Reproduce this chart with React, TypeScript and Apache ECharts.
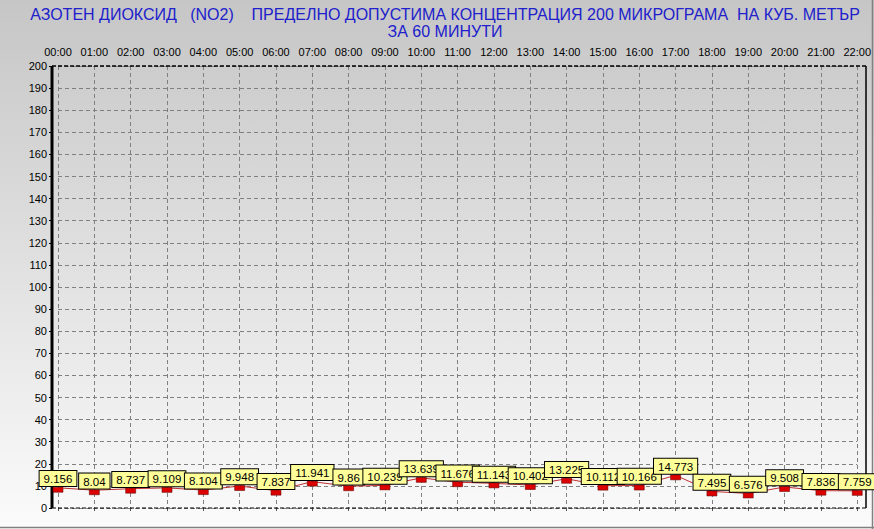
import React, { useEffect, useRef } from "react";
import * as echarts from "echarts";

const hours = ["00:00","01:00","02:00","03:00","04:00","05:00","06:00","07:00","08:00","09:00","10:00","11:00","12:00","13:00","14:00","15:00","16:00","17:00","18:00","19:00","20:00","21:00","22:00"];
const no2Values = [9.156, 8.04, 8.737, 9.109, 8.104, 9.948, 7.837, 11.941, 9.86, 10.239, 13.639, 11.676, 11.143, 10.402, 13.225, 10.112, 10.166, 14.773, 7.495, 6.576, 9.508, 7.836, 7.759];
const titleText = "АЗОТЕН ДИОКСИД   (NO2)    ПРЕДЕЛНО ДОПУСТИМА КОНЦЕНТРАЦИЯ 200 МИКРОГРАМА  НА КУБ. МЕТЪР\nЗА 60 МИНУТИ";

const FONT = "Arial, 'Liberation Sans', sans-serif";

export default function App() {
  const ref = useRef<HTMLDivElement>(null);
  useEffect(() => {
    if (!ref.current) return;
    const chart = echarts.init(ref.current, null, { renderer: "svg" });
    const L = 52, R = 866, T = 66, B = 508;
    chart.setOption({
      animation: false,
      backgroundColor: new echarts.graphic.LinearGradient(0, 0, 0, 1, [
        { offset: 0, color: "#c6c6c6" },
        { offset: 1, color: "#fbfbfb" },
      ]),
      grid: { left: 58, right: 874 - 860.5, top: T, bottom: 529 - B },
      graphic: [
        {
          type: "text", x: 445, y: 6, z: 10,
          style: { text: titleText, fill: "#2020cc", font: `16px ${FONT}`, align: "center", lineHeight: 17 },
        },
        { type: "line", z: 1, shape: { x1: L, y1: T, x2: R, y2: T }, style: { stroke: "#000", lineWidth: 1.5, lineDash: [4, 2] } },
        { type: "line", z: 1, shape: { x1: L, y1: B, x2: R, y2: B }, style: { stroke: "#000", lineWidth: 1, lineDash: [4, 2] } },
        { type: "line", z: 1, shape: { x1: R, y1: T, x2: R, y2: B }, style: { stroke: "#000", lineWidth: 1.5 } },
        { type: "line", z: 1, shape: { x1: L, y1: T, x2: L, y2: B }, style: { stroke: "#000", lineWidth: 3 } },
        { type: "line", z: 1, shape: { x1: 872.5, y1: 0, x2: 872.5, y2: 529 }, style: { stroke: "#808080", lineWidth: 1.5 } },
        { type: "line", z: 1, shape: { x1: 0, y1: 527.5, x2: 874, y2: 527.5 }, style: { stroke: "#808080", lineWidth: 1.5 } },
      ],
      xAxis: {
        type: "category",
        data: hours,
        position: "top",
        boundaryGap: false,
        axisLine: { show: false },
        axisTick: { show: true, inside: true, length: 3, lineStyle: { color: "#555" } },
        axisLabel: { color: "#000", fontSize: 11, fontFamily: FONT, margin: 9 },
        splitLine: { show: true, lineStyle: { color: "#808080", type: [4, 3], width: 1 } },
      },
      yAxis: {
        type: "value",
        min: 0,
        max: 200,
        interval: 10,
        offset: 6,
        axisLine: { show: false },
        axisTick: { show: true, length: 3, lineStyle: { color: "#000" } },
        axisLabel: { color: "#000", fontSize: 11, fontFamily: FONT, margin: 5 },
        splitLine: { show: true, lineStyle: { color: "#808080", type: [4, 3], width: 1 } },
      },
      series: [
        {
          type: "line",
          data: no2Values,
          z: 5,
          lineStyle: { color: "#c03030", width: 1 },
          symbol: "rect",
          symbolSize: [10, 5],
          symbolOffset: [0, 2],
          itemStyle: { color: "#dd0000", borderColor: "#600000", borderWidth: 0.5 },
          label: {
            show: true,
            position: "top",
            distance: 1,
            color: "#000",
            fontSize: 11.5,
            lineHeight: 12,
            fontFamily: FONT,
            backgroundColor: "#ffff99",
            borderColor: "#000",
            borderWidth: 1,
            padding: [2, 4, 1, 4],
            formatter: (p: any) => String(p.value),
          },
        },
      ],
    });
    return () => chart.dispose();
  }, []);
  return <div ref={ref} style={{ position: "fixed", left: 0, top: 0, width: 874, height: 529 }} />;
}
